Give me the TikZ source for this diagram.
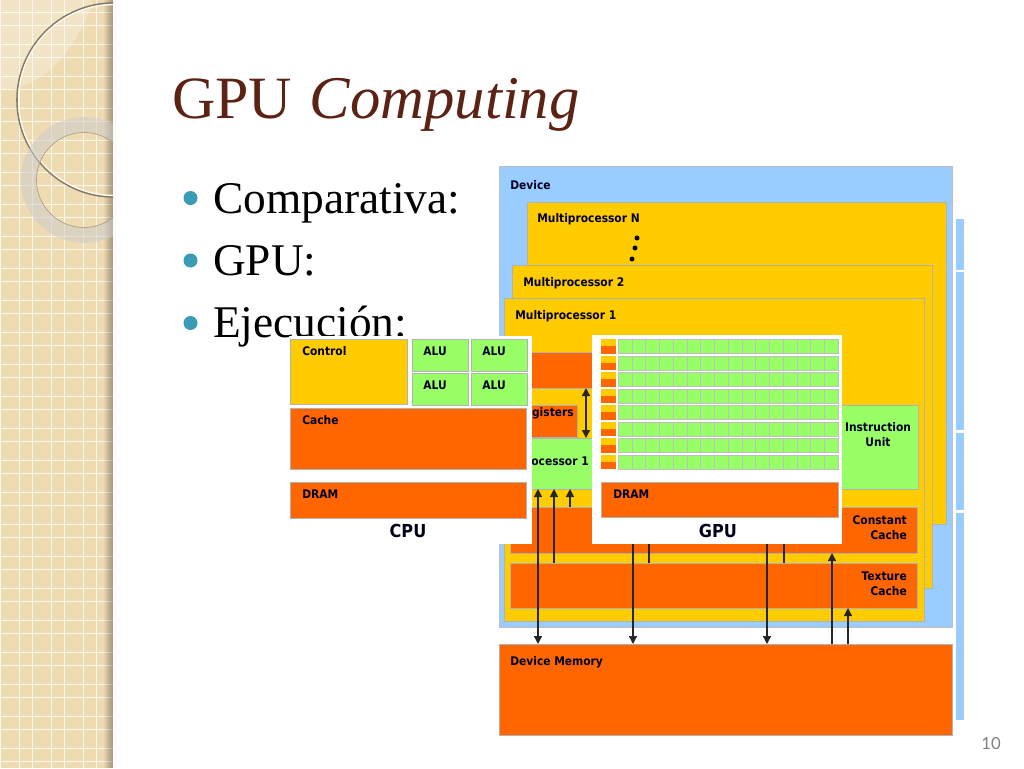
\documentclass[tikz,border=0pt]{standalone}
\usepackage{fontspec}
\usepackage{xcolor}
\setmainfont{Liberation Serif}
\setsansfont[FakeStretch=0.9]{DejaVu Sans}
\newfontfamily\pagefont{Lato}
\usetikzlibrary{arrows.meta,positioning}
\newlength{\px}
\setlength{\px}{0.75pt}
\definecolor{blueDev}{HTML}{99CCFF}
\definecolor{yellowMp}{HTML}{FFCC00}
\definecolor{orangeMem}{HTML}{FF6600}
\definecolor{greenAlu}{HTML}{99FF66}
\definecolor{bandBeige}{HTML}{EFDBB2}
\definecolor{titleBrown}{HTML}{5C2314}
\definecolor{bulletTeal}{HTML}{3A9BB5}
\newcommand{\labelfont}{\sffamily\bfseries\fontsize{8.9pt}{11.3pt}\selectfont}

\begin{document}
\begin{tikzpicture}[
  x=1\px, y=-1\px,
  box/.style={draw=black!30, line width=0.5pt, anchor=north west, inner sep=0pt, outer sep=0pt},
  device/.style={box, fill=blueDev, draw=black!25},
  multi/.style={box, fill=yellowMp},
  memory/.style={box, fill=orangeMem},
  unit/.style={box, fill=greenAlu},
  cell/.style={fill=greenAlu, draw=black!25, line width=0.35pt, anchor=north west, inner sep=0pt, outer sep=0pt},
  panel/.style={anchor=north west, fill=white, inner sep=0pt, outer sep=0pt},
  tag/.style={font=\labelfont, text=black!85!blue, inner sep=0pt, anchor=west},
  tagright/.style={tag, anchor=east, align=right},
  bigtag/.style={font=\sffamily\bfseries\fontsize{13.4pt}{15pt}\selectfont, text=black!90!blue, inner sep=0pt},
  bullet/.style={circle, fill=bulletTeal, inner sep=0pt, minimum size=14\px},
  item/.style={font=\fontsize{34pt}{40pt}\selectfont, anchor=base west, inner sep=0pt},
  flow/.style={-{Triangle[length=6pt,width=6pt]}, line width=1pt, black!85},
  both/.style={{Triangle[length=6pt,width=6pt]}-{Triangle[length=6pt,width=6pt]}, line width=1pt, black!85},
  wire/.style={line width=1pt, black!85},
]
\useasboundingbox (0,0) rectangle (1024,768);

% ---- side band ----------------------------------------------------------
\fill[bandBeige] (0,0) rectangle (113,768);
\foreach \col in {0,1,2,3} {
  \draw[white!80!bandBeige, line width=1\px] (0.5+32*\col,0) -- (0.5+32*\col,768);
  \draw[white!80!bandBeige, line width=1\px] (19.5+32*\col,0) -- (19.5+32*\col,768);
}
\foreach \row in {0,...,23} {
  \draw[white!80!bandBeige, line width=1\px] (0,12+32*\row) -- (113,12+32*\row);
  \draw[white!80!bandBeige, line width=1\px] (0,25+32*\row) -- (113,25+32*\row);
}
\fill[white, opacity=0.25] (0,0) -- (0,90) .. controls (40,88) and (70,60) .. (92,5) -- (92,0) -- cycle;
\foreach \i in {1,...,9}
  \fill[black, opacity=0.035] (113-\i,0) rectangle (113,768);
\begin{scope}
  \clip (0,0) rectangle (113,768);
  \draw[black!45!bandBeige, line width=1.6\px] (114,100) circle (97);
  \draw[white!80!bandBeige, line width=1.4\px] (114,100) circle (95.5);
  \fill[black!20!white, opacity=0.55, even odd rule] (84,180) circle (63) (84,180) circle (47.5);
  \draw[black!30!bandBeige, line width=0.6\px] (84,180) circle (47.5);
\end{scope}

% ---- title and list ------------------------------------------------------
\node[font=\fontsize{45pt}{54pt}\selectfont, text=titleBrown, anchor=base west, inner sep=0pt] (title)
  at (172,118) {GPU\kern2pt{} {\fontsize{45.5pt}{54pt}\selectfont\itshape Computing}};

\node[item] (comparativa) at (213,213) {Comparativa:};
\node[item] (gpulist)     at (213,275) {GPU:};
\node[item] (ejecucion)   at (213,337) {Ejecución:};
\node[bullet] (dotA) at (190.5,198) {};
\node[bullet] (dotB) at (190.5,260.5) {};
\node[bullet] (dotC) at (190.5,323) {};

\node[font=\pagefont\fontsize{12.5pt}{14pt}\selectfont, text=black!50, inner sep=0pt] (pagenum) at (991,744) {10};

% ---- device -------------------------------------------------------------
\foreach \ypos/\yend [count=\n] in {219/270, 272/430, 433/510, 513/720}
  \node[device, draw=none, minimum width=8\px, minimum height={(\yend-\ypos)*1\px}] (strip\n) at (956,\ypos) {};

\node[device, minimum width=453\px, minimum height=461\px] (device) at (499,166) {};
\node[tag] at (510,185) {Device};

\node[multi, minimum width=419\px, minimum height=322\px] (multiN) at (527,202) {};
\node[tag] at (537,219) {Multiprocessor N};
\node[circle, fill=black, inner sep=0pt, minimum size=5\px] (dotN1) at (637,238) {};
\node[circle, fill=black, inner sep=0pt, minimum size=5\px] (dotN2) at (635,248) {};
\node[circle, fill=black, inner sep=0pt, minimum size=5\px] (dotN3) at (632,259) {};

\node[multi, minimum width=420\px, minimum height=323\px] (multi2) at (512,265) {};
\node[tag] at (523,283) {Multiprocessor 2};

\node[multi, minimum width=420\px, minimum height=323\px] (multi1) at (504,298) {};
\node[tag] at (515,316) {Multiprocessor 1};

\node[memory, minimum width=300\px, minimum height=36\px] (localmem) at (510,352) {};
\node[memory, minimum width=67\px, minimum height=32\px] (registers) at (510,405) {};
\node[tagright] at (574,413) {Registers};
\node[unit, minimum width=290\px, minimum height=51\px] (proc1) at (510,438) {};
\node[tagright] at (589,461) {Processor 1};
\node[unit, minimum width=118\px, minimum height=84\px] (instr) at (800,405) {};
\node[tag, anchor=center, align=center] at (878,435) {Instruction\\Unit};

\node[memory, minimum width=407\px, minimum height=46\px] (constant) at (510,507) {};
\node[tagright] at (907,528) {Constant\\Cache};
\node[memory, minimum width=407\px, minimum height=45\px] (texture) at (510,563) {};
\node[tagright] at (907,584) {Texture\\Cache};

\node[memory, minimum width=453\px, minimum height=91\px] (devmem) at (499,644) {};
\node[tag] at (510,662) {Device Memory};

% ---- connectors ---------------------------------------------------------
\draw[both] (localmem.south -| 586,0) -- (proc1.north -| 586,0);
\draw[both] (proc1.south -| 538,0) -- (devmem.north -| 538,0);
\draw[flow] (texture.north -| 554,0) -- (proc1.south -| 554,0);
\draw[flow] (constant.north -| 570,0) -- (proc1.south -| 570,0);
\draw[flow] (proc1.south -| 633,0) -- (devmem.north -| 633,0);
\draw[wire] (proc1.south -| 649,0) -- (texture.north -| 649,0);
\draw[flow] (proc1.south -| 767,0) -- (devmem.north -| 767,0);
\draw[wire] (proc1.south -| 784,0) -- (texture.north -| 784,0);
\draw[flow] (devmem.north -| 832,0) -- (constant.south -| 832,0);
\draw[flow] (devmem.north -| 848,0) -- (texture.south -| 848,0);

% ---- cpu panel ----------------------------------------------------------
\node[panel, minimum width=243\px, minimum height=208\px] (cpupanel) at (289,336) {};
\node[multi, minimum width=117\px, minimum height=65\px] (control) at (290,339) {};
\node[tag] at (302,351) {Control};
\foreach \xpos/\ypos/\nm in {412/339/a, 471/339/b, 412/373/c, 471/373/d} {
  \node[unit, minimum width=56\px, minimum height=32\px] (alu\nm) at (\xpos,\ypos) {};
  \node[tag, anchor=center] at (\xpos+23,\ypos+12) {ALU};
}
\node[memory, minimum width=236\px, minimum height=61\px] (cache) at (290,408) {};
\node[tag] at (302,420) {Cache};
\node[memory, minimum width=236\px, minimum height=36\px] (cpudram) at (290,482) {};
\node[tag] at (302,494) {DRAM};
\node[bigtag] at (408,531) {CPU};

% ---- gpu panel ----------------------------------------------------------
\node[panel, minimum width=250\px, minimum height=209\px] (gpupanel) at (592,335) {};
\foreach \r in {0,...,7} {
  \node[multi, draw=none, minimum width=15\px, minimum height=7\px] (ctl\r) at (601,339+16.57*\r) {};
  \node[memory, draw=none, minimum width=15\px, minimum height=7.5\px] (mem\r) at (601,346+16.57*\r) {};
  \foreach \c in {0,...,15}
    \node[cell, minimum width=13.75\px, minimum height=14\px] (pe\r-\c) at (618+13.75*\c,339.3+16.57*\r) {};
}
\node[memory, minimum width=237\px, minimum height=35\px] (gpudram) at (601,482) {};
\node[tag] at (613,494) {DRAM};
\node[bigtag] at (718,531) {GPU};

\end{tikzpicture}
\end{document}
